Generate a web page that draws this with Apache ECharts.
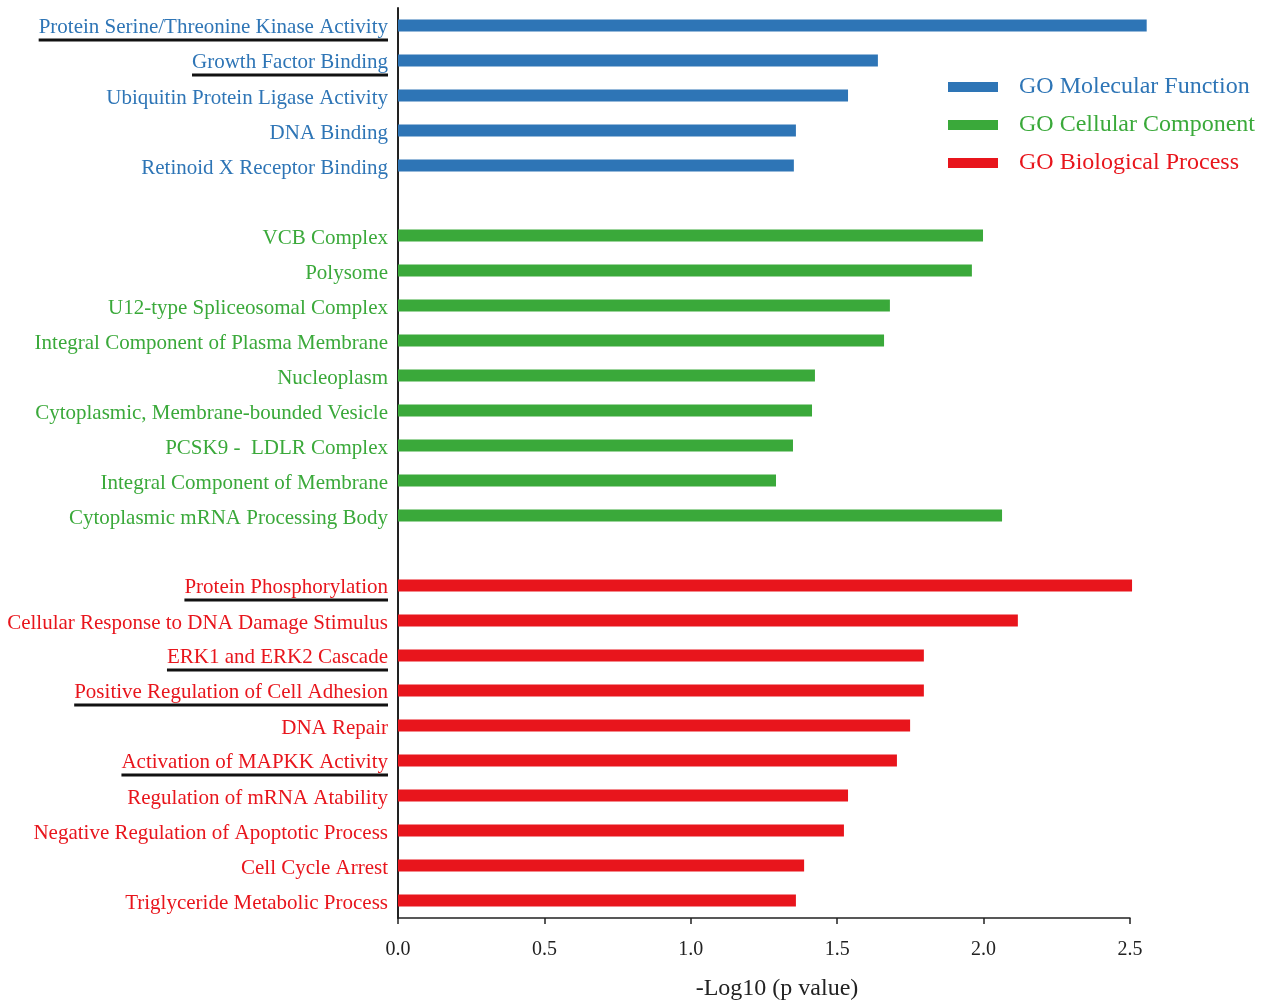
<!DOCTYPE html>
<html>
<head>
<meta charset="utf-8">
<script src="https://cdn.jsdelivr.net/npm/echarts@6/dist/echarts.min.js"></script>
<style>
  html, body { margin: 0; padding: 0; background: #fff; }
</style>
</head>
<body>
<div id="gochart" style="width: 1282px; height: 1002px;"></div>
<script>
// GO terms and -log10(p) values, top to bottom
var mfTerms = ['Protein Serine/Threonine Kinase Activity', 'Growth Factor Binding',
    'Ubiquitin Protein Ligase Activity', 'DNA Binding', 'Retinoid X Receptor Binding'];
var mfValues = [2.557, 1.639, 1.537, 1.359, 1.352];

var ccTerms = ['VCB Complex', 'Polysome', 'U12-type Spliceosomal Complex',
    'Integral Component of Plasma Membrane', 'Nucleoplasm',
    'Cytoplasmic, Membrane-bounded Vesicle', 'PCSK9 -  LDLR Complex',
    'Integral Component of Membrane', 'Cytoplasmic mRNA Processing Body'];
var ccValues = [1.998, 1.960, 1.680, 1.660, 1.424, 1.414, 1.349, 1.291, 2.063];

var bpTerms = ['Protein Phosphorylation', 'Cellular Response to DNA Damage Stimulus',
    'ERK1 and ERK2 Cascade', 'Positive Regulation of Cell Adhesion', 'DNA Repair',
    'Activation of MAPKK Activity', 'Regulation of mRNA Atability',
    'Negative Regulation of Apoptotic Process', 'Cell Cycle Arrest',
    'Triglyceride Metabolic Process'];
var bpValues = [2.507, 2.117, 1.796, 1.796, 1.749, 1.704, 1.537, 1.523, 1.387, 1.359];

var underlined = ['Protein Serine/Threonine Kinase Activity', 'Growth Factor Binding',
    'Protein Phosphorylation', 'ERK1 and ERK2 Cascade',
    'Positive Regulation of Cell Adhesion', 'Activation of MAPKK Activity'];

var xTicks = ['0.0', '0.5', '1.0', '1.5', '2.0', '2.5'];
var groupNames = ['GO Molecular Function', 'GO Cellular Component', 'GO Biological Process'];

var BLUE = '#2e75b6', GREEN = '#3aa93a', RED = '#e8151c';
var SERIF = '"Liberation Serif", "Times New Roman", serif';

// build the category list with a blank row between groups
var groups = [
    {terms: mfTerms, values: mfValues, key: 'b'},
    {terms: ccTerms, values: ccValues, key: 'g'},
    {terms: bpTerms, values: bpValues, key: 'r'}
];
var categories = [];
var catKey = {};
var seriesData = [[], [], []];
groups.forEach(function (g, gi) {
    if (gi > 0) {
        var blank = gi === 1 ? ' ' : '  ';
        categories.push(blank);
        seriesData.forEach(function (d) { d.push(null); });
    }
    g.terms.forEach(function (t, i) {
        categories.push(t);
        catKey[t] = g.key;
        seriesData.forEach(function (d, di) { d.push(di === gi ? g.values[i] : null); });
    });
});

var colors = [BLUE, GREEN, RED];

function labelStyle(color, pad) {
    return {color: color, fontFamily: SERIF, fontSize: 21, lineHeight: 29, padding: pad};
}

var option = {
    animation: false,
    grid: {left: 398, right: 152, top: 8, bottom: 84, outerBoundsMode: 'none'},
    legend: {
        orient: 'vertical',
        left: 948,
        top: 74,
        padding: 0,
        itemWidth: 50,
        itemHeight: 10,
        itemGap: 12,
        icon: 'rect',
        textStyle: {fontFamily: SERIF, fontSize: 24, lineHeight: 26, padding: [0, 0, 0, 16]},
        data: groupNames.map(function (n, i) {
            return {name: n, textStyle: {color: colors[i]}};
        })
    },
    xAxis: {
        type: 'value',
        min: 0,
        max: 2.5,
        interval: 0.5,
        splitLine: {show: false},
        axisLine: {show: true, lineStyle: {color: '#222', width: 1.5}},
        axisTick: {show: true, length: 6, lineStyle: {color: '#222', width: 1.5}},
        axisLabel: {
            margin: 22,
            color: '#222',
            fontFamily: SERIF,
            fontSize: 20,
            formatter: function (v) { return xTicks[Math.round(v / 0.5)]; }
        },
        name: '-Log10 (p value)',
        nameLocation: 'middle',
        nameGap: 59,
        nameTextStyle: {color: '#222', fontFamily: SERIF, fontSize: 24, padding: [0, 0, 0, 26]}
    },
    yAxis: {
        type: 'category',
        inverse: true,
        data: categories,
        axisLine: {show: true, lineStyle: {color: '#222', width: 2}},
        axisTick: {show: false},
        axisLabel: {
            interval: 0,
            margin: 10,
            formatter: function (v) {
                var k = catKey[v];
                if (!k) return '';
                if (underlined.indexOf(v) >= 0) return '{' + k + 'u|' + v + '}\n{u|}';
                return '{' + k + '|' + v + '}';
            },
            rich: {
                b: labelStyle(BLUE, [6, 0, 0, 0]),
                g: labelStyle(GREEN, [6, 0, 0, 0]),
                r: labelStyle(RED, [6, 0, 0, 0]),
                bu: labelStyle(BLUE, [9, 0, 3, 0]),
                ru: labelStyle(RED, [9, 0, 3, 0]),
                u: {width: '100%', height: 3, lineHeight: 3, backgroundColor: '#111'}
            }
        }
    },
    series: groupNames.map(function (n, i) {
        return {
            name: n,
            type: 'bar',
            barWidth: 12,
            barGap: '-100%',
            clip: false,
            itemStyle: {color: colors[i]},
            data: seriesData[i]
        };
    })
};

var chart = echarts.init(document.getElementById('gochart'));
chart.setOption(option);
</script>
</body>
</html>
